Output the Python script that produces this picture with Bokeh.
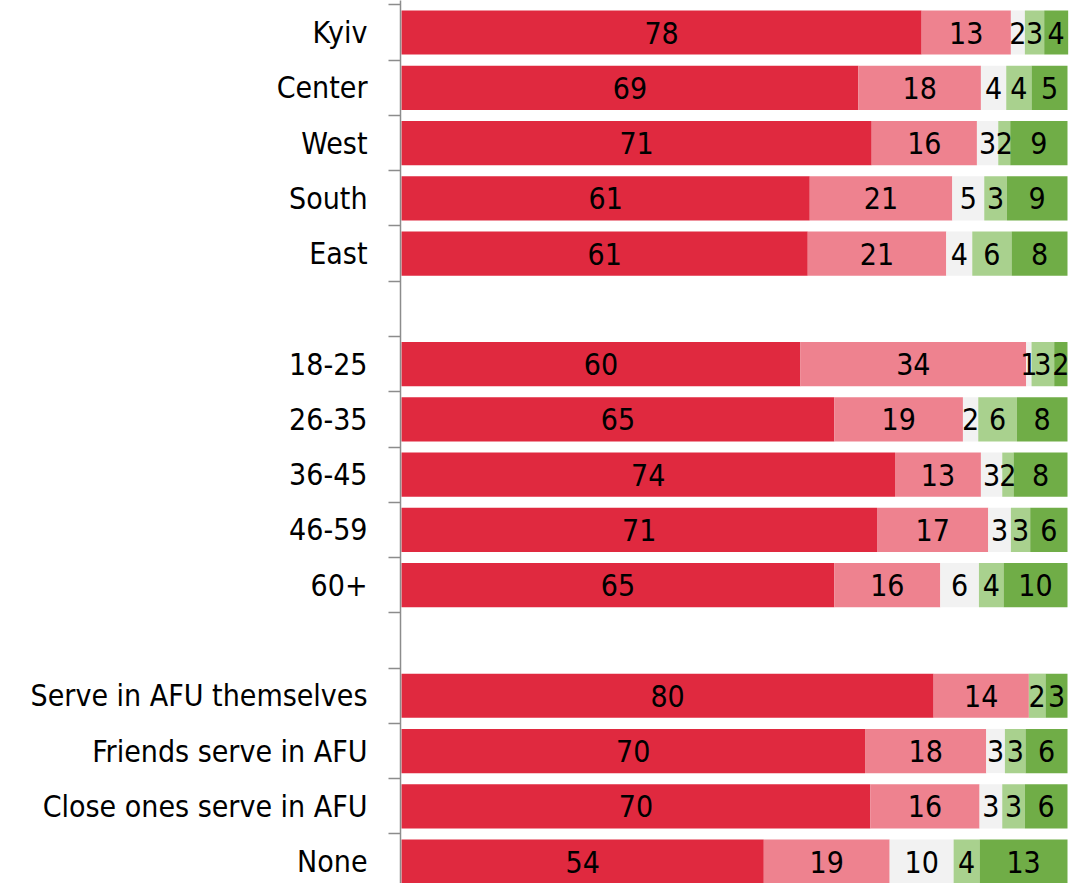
from bokeh.plotting import figure
from bokeh.models import ColumnDataSource, Range1d, FixedTicker
from bokeh.core.properties import value
from bokeh.embed import file_html
from bokeh.resources import INLINE

categories = ["Kyiv", "Center", "West", "South", "East", "",
              "18-25", "26-35", "36-45", "46-59", "60+", "",
              "Serve in AFU themselves", "Friends serve in AFU",
              "Close ones serve in AFU", "None"]

# series values per row (None for spacer rows)
s1 = [78.1, 68.6, 70.6, 61.3, 61.0, None, 59.9, 65.0, 74.1, 71.4, 65.0, None, 79.9, 69.6, 70.4, 54.4]
s2 = [13.4, 18.4, 15.8, 21.4, 20.8, None, 33.9, 19.3, 12.9, 16.7, 15.9, None, 14.3, 18.2, 16.4, 18.9]
s3 = [2.1, 3.8, 3.2, 4.8, 3.9, None, 0.8, 2.3, 3.2, 3.4, 5.8, None, 0.0, 2.8, 3.4, 9.6]
s4 = [2.9, 3.8, 1.8, 3.4, 5.9, None, 3.4, 5.8, 1.7, 2.9, 3.7, None, 2.5, 3.1, 3.4, 3.9]
s5 = [3.6, 5.4, 8.6, 9.1, 8.4, None, 2.0, 7.6, 8.1, 5.6, 9.6, None, 3.3, 6.3, 6.4, 13.2]

colors = ["#E0293F", "#EE828F", "#F2F2F2", "#A9D18E", "#70AD47"]
FONT = "'DejaVu Sans Condensed', 'Liberation Sans', sans-serif"

series = [s1, s2, s3, s4, s5]
rows = [i for i, c in enumerate(categories) if s1[i] is not None]

data = {"y": rows}
names = []
for k, s in enumerate(series):
    nm = f"s{k+1}"
    names.append(nm)
    data[nm] = [s[i] for i in rows]
source = ColumnDataSource(data)

p = figure(width=1069, height=883, output_backend="svg", toolbar_location=None,
           x_range=Range1d(-0.15, 100.3), y_range=Range1d(15.397, -0.579),
           min_border_left=400, min_border_right=0, min_border_top=0, min_border_bottom=0)

p.hbar_stack(names, y="y", height=0.8, color=colors, line_color=None, source=source)

# labels
lx, ly, lt = [], [], []
for i in rows:
    left = 0.0
    for s in series:
        v = s[i]
        if v >= 0.5:
            lx.append(left + v / 2)
            ly.append(i)
            lt.append(f"{v:.0f}")
        left += v
p.text(x=lx, y=ly, text=lt, text_align="center", text_baseline="middle",
       text_font=value(FONT), text_font_size="30px", text_color="#000000")

p.xaxis.visible = False
p.xgrid.visible = False
p.ygrid.visible = False
p.outline_line_color = None

ax = p.yaxis[0]
ax.ticker = FixedTicker(ticks=list(range(len(categories))),
                        minor_ticks=[i - 0.5 for i in range(len(categories) + 1)])
ax.major_label_overrides = {i: c for i, c in enumerate(categories)}
ax.major_tick_out = 0
ax.major_tick_in = 0
ax.minor_tick_out = 12
ax.minor_tick_in = 0
ax.minor_tick_line_color = "#8C8C8C"
ax.minor_tick_line_width = 1.5
ax.axis_line_color = "#8C8C8C"
ax.axis_line_width = 1.5
ax.major_label_standoff = 21
ax.major_label_text_font = FONT
ax.major_label_text_font_size = "30px"
ax.major_label_text_color = "#000000"

open("out.html", "w").write(file_html(p, INLINE))
